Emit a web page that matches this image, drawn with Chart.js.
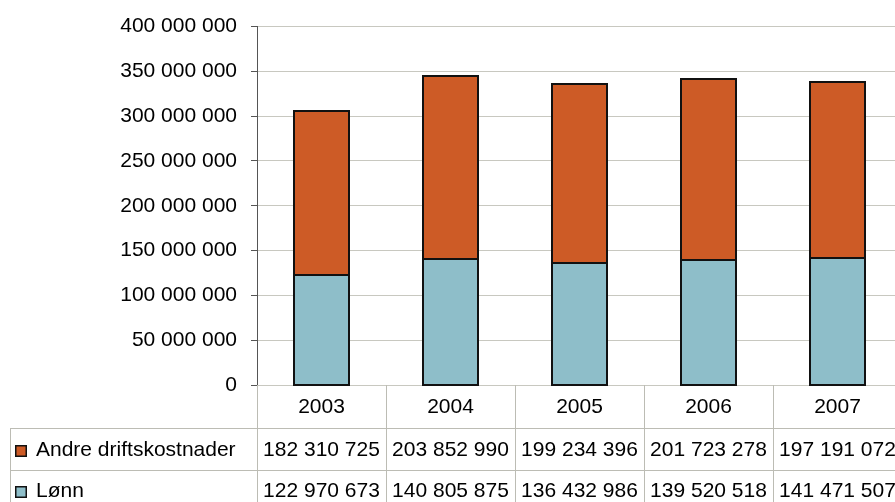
<!DOCTYPE html>
<html>
<head>
<meta charset="utf-8">
<script src="https://cdn.jsdelivr.net/npm/chart.js@4/dist/chart.umd.min.js"></script>
<style>
  html, body { margin: 0; padding: 0; background: #fff; overflow: hidden; }
  #wrap { width: 910px; height: 502px; }
</style>
</head>
<body>
<div id="wrap"><canvas id="c" width="910" height="502"></canvas></div>
<script>
// Kostnader per år
const years = ['2003', '2004', '2005', '2006', '2007'];
const andreDriftskostnader = [182310725, 203852990, 199234396, 201723278, 197191072];
const lonn = [122970673, 140805875, 136432986, 139520518, 141471507];
const seriesNames = ['Andre driftskostnader', 'Lønn'];
const yTicks = [0, 50000000, 100000000, 150000000, 200000000, 250000000, 300000000, 350000000, 400000000];

const FONT = '"Liberation Sans", Arial, sans-serif';
const FONT_SIZE = 21;
const ORANGE = '#cd5b26';
const BLUE = '#8ebec9';

function fmt(v) {
  return String(Math.round(v)).replace(/\B(?=(\d{3})+(?!\d))/g, ' ');
}

// Svart omriss rundt hvert søylesegment, delt linje mellom segmentene
const barOutline = {
  id: 'barOutline',
  afterDatasetsDraw(chart) {
    const ctx = chart.ctx;
    ctx.save();
    ctx.strokeStyle = '#111';
    ctx.lineWidth = 2;
    chart.data.datasets.forEach((ds, di) => {
      chart.getDatasetMeta(di).data.forEach(bar => {
        const p = bar.getProps(['x', 'y', 'base', 'width'], true);
        const l = Math.round(p.x - p.width / 2);
        const r = Math.round(p.x + p.width / 2);
        const t = Math.round(Math.min(p.y, p.base));
        const b = Math.round(Math.max(p.y, p.base));
        ctx.strokeRect(l, t, r - l, b - t);
      });
    });
    ctx.restore();
  }
};

// Datatabell under diagrammet: årstall, forklaring og verdier
const dataTable = {
  id: 'dataTable',
  afterDraw(chart) {
    const ctx = chart.ctx;
    const x = chart.scales.x;
    const area = chart.chartArea;
    const n = chart.data.labels.length;
    const step = (area.right - area.left) / n;
    const row1 = 428, row2 = 470, bottom = 502, tableLeft = 10;

    ctx.save();
    ctx.strokeStyle = '#bcbcb4';
    ctx.lineWidth = 1;
    ctx.beginPath();
    for (let i = 0; i <= n; i++) {
      const px = Math.round(area.left + i * step) + 0.5;
      ctx.moveTo(px, area.bottom);
      ctx.lineTo(px, bottom);
    }
    ctx.moveTo(tableLeft + 0.5, row1);
    ctx.lineTo(tableLeft + 0.5, bottom);
    ctx.moveTo(tableLeft, row1 + 0.5);
    ctx.lineTo(area.right, row1 + 0.5);
    ctx.moveTo(tableLeft, row2 + 0.5);
    ctx.lineTo(area.right, row2 + 0.5);
    ctx.stroke();

    ctx.fillStyle = '#000';
    ctx.font = FONT_SIZE + 'px ' + FONT;
    ctx.textAlign = 'center';
    ctx.textBaseline = 'middle';
    chart.data.labels.forEach((lab, i) => {
      ctx.fillText(lab, x.getPixelForValue(i), 407);
    });

    const rows = [
      { y: 450, ds: 1 },
      { y: 491, ds: 0 }
    ];
    rows.forEach(r => {
      const ds = chart.data.datasets[r.ds];
      ctx.fillStyle = '#000';
      ctx.textAlign = 'center';
      ds.data.forEach((v, i) => {
        ctx.fillText(fmt(v), x.getPixelForValue(i), r.y);
      });
      // forklaringsrute
      ctx.fillStyle = ds.backgroundColor;
      ctx.fillRect(15, r.y - 5, 12, 12);
      ctx.strokeStyle = '#111';
      ctx.lineWidth = 1.5;
      ctx.strokeRect(15.75, r.y - 4.25, 10.5, 10.5);
      ctx.fillStyle = '#000';
      ctx.textAlign = 'left';
      ctx.fillText(ds.label, 36, r.y);
    });
    ctx.restore();
  }
};

new Chart(document.getElementById('c'), {
  type: 'bar',
  data: {
    labels: years,
    datasets: [
      { label: seriesNames[1], data: lonn, backgroundColor: BLUE, borderWidth: 0 },
      { label: seriesNames[0], data: andreDriftskostnader, backgroundColor: ORANGE, borderWidth: 0 }
    ]
  },
  options: {
    responsive: false,
    animation: false,
    layout: { padding: { left: 0, right: 8, top: 25, bottom: 117 } },
    plugins: { legend: { display: false }, tooltip: { enabled: false } },
    datasets: { bar: { barPercentage: 0.43, categoryPercentage: 1 } },
    scales: {
      x: { display: false, stacked: true },
      y: {
        stacked: true,
        min: 0,
        max: 400000000,
        afterBuildTicks(scale) { scale.ticks = yTicks.map(v => ({ value: v })); },
        afterFit(scale) { scale.width = 257; },
        ticks: {
          padding: 14,
          color: '#000',
          font: { family: FONT, size: FONT_SIZE },
          callback: v => fmt(v)
        },
        grid: { color: '#c8c8c0', tickColor: '#555', tickLength: 6, lineWidth: 1 },
        border: { color: '#555', width: 1 }
      }
    }
  },
  plugins: [barOutline, dataTable]
});
</script>
</body>
</html>
